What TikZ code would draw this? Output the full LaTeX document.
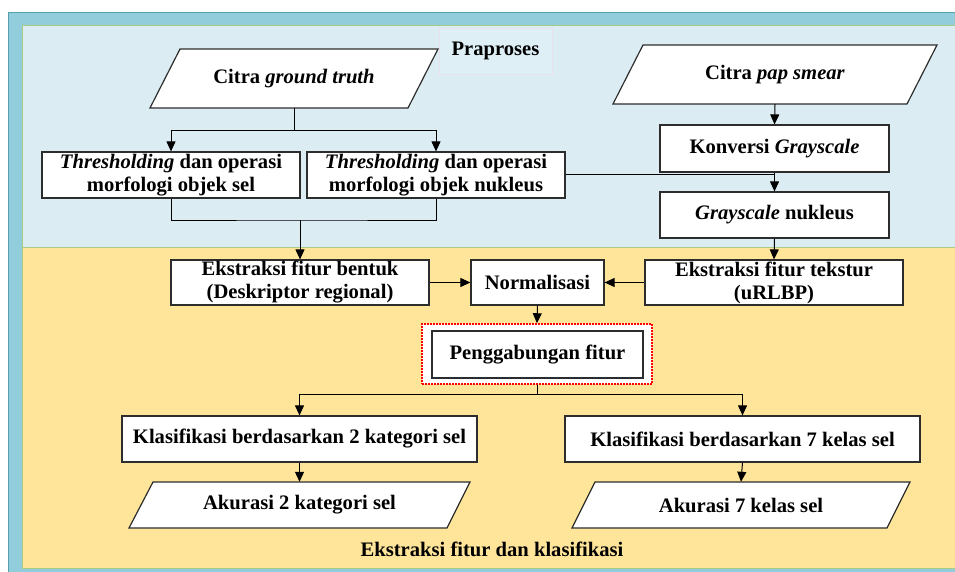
\documentclass[tikz,border=0pt]{standalone}
\usepackage{fontspec}
\setmainfont{Liberation Serif}
\usetikzlibrary{arrows.meta,calc}

\definecolor{framebg}{RGB}{146,205,220}
\definecolor{frameedge}{RGB}{84,160,176}
\definecolor{preblue}{RGB}{219,237,243}
\definecolor{prelabel}{RGB}{222,239,245}
\definecolor{prelabeledge}{RGB}{232,224,234}
\definecolor{feyellow}{RGB}{255,229,153}
\definecolor{regionedge}{RGB}{170,204,130}
\definecolor{boxline}{RGB}{45,45,45}

\begin{document}
\begin{tikzpicture}[x=1pt, y=-1pt, >={Triangle[length=10pt, width=9pt]},
    font=\fontsize{20.6}{23}\selectfont\bfseries,
    procbox/.style={draw=boxline, line width=1.2pt, fill=white, align=center, inner sep=0pt},
    iobox/.style={draw=boxline, line width=1.2pt, fill=white},
    iotext/.style={align=center, inner sep=0pt},
    link/.style={line width=1pt},
    flow/.style={link, ->}]

    \useasboundingbox (0,0) rectangle (955,572);

    % --- latar ---
    \fill[framebg] (8,12) rectangle (955,572);
    \draw[frameedge, line width=1pt] (8,572) -- (8,12.5) -- (955,12.5);
    \filldraw[fill=preblue, draw=regionedge, line width=0.8pt] (22,25) rectangle (955,247);
    \filldraw[fill=feyellow, draw=regionedge, line width=0.8pt] (22,247) rectangle (955,568);

    % --- label bagian ---
    \filldraw[fill=prelabel, draw=prelabeledge, line width=0.6pt] (439,28) rectangle (552,74);
    \node (lblpre) at (495.5,51) {Praproses};
    \node (lblfe) at (492,549) {Ekstraksi fitur dan klasifikasi};

    % --- praproses ---
    % jajaran genjang masukan
    \filldraw[iobox] (180,49) -- (438,49) -- (408,108) -- (150,108) -- cycle;
    \node[iotext, minimum height=59] (gt) at (294,78.5) {Citra \textit{ground truth}};
    \filldraw[iobox] (643,45) -- (937,45) -- (907,104) -- (613,104) -- cycle;
    \node[iotext, minimum height=59] (ps) at (775,74.5) {Citra \textit{pap smear}};

    \node[procbox, minimum width=258, minimum height=46] (thsel) at (171,175)
        {\textit{Thresholding} dan operasi\\morfologi objek sel};
    \node[procbox, minimum width=258, minimum height=46] (thnuk) at (436,175)
        {\textit{Thresholding} dan operasi\\morfologi objek nukleus};
    \node[procbox, minimum width=229, minimum height=47] (konv) at (774.5,148.5) {Konversi \textit{Grayscale}};
    \node[procbox, minimum width=229, minimum height=46] (gnuk) at (774.5,215) {\textit{Grayscale} nukleus};

    % --- ekstraksi fitur ---
    \node[procbox, minimum width=258, minimum height=45] (bentuk) at (300,282.5)
        {Ekstraksi fitur bentuk\\(Deskriptor regional)};
    \node[procbox, minimum width=133, minimum height=45] (norm) at (537.5,282.5) {Normalisasi};
    \node[procbox, minimum width=258, minimum height=45] (tekstur) at (774,282.5)
        {Ekstraksi fitur tekstur\\(uRLBP)};

    \node[draw=red, fill=white, line width=1.5pt, dash pattern=on 1.8pt off 1.2pt,
        minimum width=230, minimum height=60, inner sep=0pt] (gabungbox) at (537,354) {};
    \node[procbox, minimum width=211, minimum height=47] (gabung) at (537.5,354.5) {Penggabungan fitur};

    % --- klasifikasi ---
    \node[procbox, minimum width=355, minimum height=46] (kl2) at (299.5,439) {Klasifikasi berdasarkan 2 kategori sel};
    \node[procbox, minimum width=355, minimum height=46] (kl7) at (742.5,439) {Klasifikasi berdasarkan 7 kelas sel};
    \filldraw[iobox] (153,482) -- (470,482) -- (447,528) -- (129,528) -- cycle;
    \node[iotext, minimum height=46] (ak2) at (299.5,505) {Akurasi 2 kategori sel};
    \filldraw[iobox] (595,482) -- (910,482) -- (887,528) -- (572,528) -- cycle;
    \node[iotext, minimum height=46] (ak7) at (741,505) {Akurasi 7 kelas sel};

    % --- titik cabang ---
    \coordinate (jgt) at (294,131);
    \coordinate (jth) at (300,220);
    \coordinate (jgb) at (537,394);

    % --- penghubung ---
    \draw[link] (gt.south) -- (jgt);
    \draw[flow] (jgt) -| (thsel.north);
    \draw[flow] (jgt) -| (thnuk.north);
    \draw[link] (thsel.south) |- (jth) -| (thnuk.south);
    \draw[flow] (jth) -- (bentuk.north);

    \draw[flow] (ps.south) -- (konv.north);
    \draw[flow] (konv.south) -- (gnuk.north);
    \draw[link] (thnuk.east) -- (thnuk.east -| konv.south);
    \draw[flow] (gnuk.south) -- (tekstur.north);

    \draw[flow] (bentuk.east) -- (norm.west);
    \draw[flow] (tekstur.west) -- (norm.east);
    \draw[flow] (norm.south) -- (gabungbox.north);

    \draw[link] (gabungbox.south) -- (jgb);
    \draw[flow] (jgb) -| (kl2.north);
    \draw[flow] (jgb) -| (kl7.north);
    \draw[flow] (kl2.south) -- (ak2.north);
    \draw[flow] (kl7.south) -- (ak7.north);

\end{tikzpicture}
\end{document}
